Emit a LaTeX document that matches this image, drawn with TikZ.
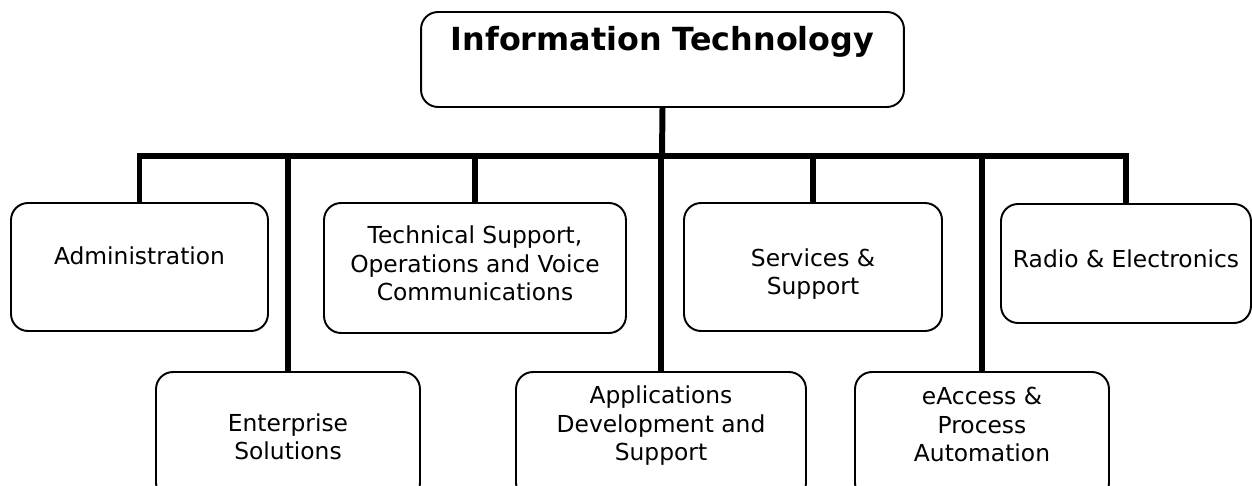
\documentclass[tikz,border=0pt]{standalone}
\usepackage{fontspec}
\setmainfont{DejaVu Sans}

\tikzset{
  unit/.style={draw, line width=1.1pt, rounded corners=0.34cm, align=center,
    inner sep=0pt, text depth=10pt, font=\fontsize{13.3}{16.4}\selectfont},
  head/.style={unit, font=\fontsize{18.1}{22}\selectfont\bfseries},
  link/.style={line width=3.4pt, line join=miter},
}

\begin{document}
\begin{tikzpicture}[x=0.02cm, y=-0.02cm]
    \useasboundingbox (0,0) rectangle (1252,486);
    \clip (0,0) rectangle (1252,486);
    % head of the chart
    \node[head, minimum width=9.66cm, minimum height=1.9cm, text height=10pt, text depth=20.8pt] (it) at (662.5,59.5) {Information Technology};
    % upper row
    \node[unit, minimum width=5.14cm, minimum height=2.56cm, text height=10pt, text depth=13.4pt] (admin) at (139.5,267) {Administration};
    \node[unit, minimum width=6.04cm, minimum height=2.6cm, text height=47.4pt] (tech) at (475,268) {Technical Support,\\Operations and Voice\\Communications};
    \node[unit, minimum width=5.16cm, minimum height=2.56cm, text height=41.7pt] (serv) at (813,267) {Services \&\\Support};
    \node[unit, minimum width=5cm, minimum height=2.38cm, text height=10pt, text depth=6pt] (radio) at (1126,263.5) {Radio \& Electronics};
    % lower row
    \node[unit, minimum width=5.28cm, minimum height=2.56cm, text height=37.2pt] (ent) at (288,436) {Enterprise\\Solutions};
    \node[unit, minimum width=5.8cm, minimum height=2.56cm, text height=38.3pt] (app) at (661,436) {Applications\\Development and\\Support};
    \node[unit, minimum width=5.08cm, minimum height=2.56cm, text height=39.5pt] (eacc) at (982,436) {eAccess \&\\Process\\Automation};
    % connectors
    \coordinate (bus) at (662,156);
    \draw[link] (it.south) -- (bus);
    \draw[link] (admin.north) |- (bus) -| (radio.north);
    \foreach \n in {ent,tech,app,serv,eacc}
        \draw[link] (bus -| \n.north) -- (\n.north);
\end{tikzpicture}
\end{document}
